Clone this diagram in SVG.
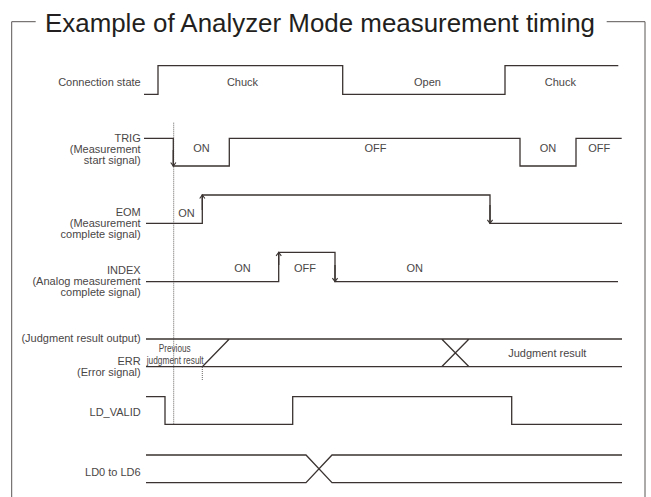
<svg xmlns="http://www.w3.org/2000/svg" width="651" height="497" viewBox="0 0 651 497">
<style>
.sig{fill:none;stroke:#3a3331;stroke-width:1.3}
.frame{fill:none;stroke:#5a5555;stroke-width:1}
.dot{fill:none;stroke:#6a6666;stroke-width:1;stroke-dasharray:1 1}
text{font-family:"Liberation Sans",Arial,sans-serif;fill:#4a4646}
.lbl{font-size:11px;text-anchor:end}
.st{font-size:11px;text-anchor:middle}
.sm{font-size:10px}
.title{font-size:25px;fill:#231f20}
</style>
<defs>
<marker id="ah" markerUnits="userSpaceOnUse" markerWidth="8" markerHeight="8" refX="0" refY="0" viewBox="-5 -4 6 8" orient="auto" overflow="visible">
<path d="M-3.5,-2.6 L0,0 L-3.5,2.6" fill="none" stroke="#3a3331" stroke-width="1.1"/>
</marker>
</defs>
<rect width="651" height="497" fill="#fff"/>
<g id="frame">
<path class="frame" d="M35.7 21.7 H11.7 V497"/>
<path class="frame" d="M606.7 21.7 H645 V497"/>
<text class="title" x="45" y="31.7" textLength="550" lengthAdjust="spacingAndGlyphs">Example of Analyzer Mode measurement timing</text>
</g>
<g id="labels">
<text class="lbl" x="140.7" y="85.7">Connection state</text>
<text class="lbl" x="140.7" y="141.7">TRIG</text>
<text class="lbl" x="140.7" y="153">(Measurement</text>
<text class="lbl" x="140.7" y="164.3">start signal)</text>
<text class="lbl" x="140.7" y="216.3">EOM</text>
<text class="lbl" x="140.7" y="227.3">(Measurement</text>
<text class="lbl" x="140.7" y="238.3">complete signal)</text>
<text class="lbl" x="140.7" y="273.5">INDEX</text>
<text class="lbl" x="140.7" y="284.5">(Analog measurement</text>
<text class="lbl" x="140.7" y="295.5">complete signal)</text>
<text class="lbl" x="140.7" y="342.3">(Judgment result output)</text>
<text class="lbl" x="140.7" y="365">ERR</text>
<text class="lbl" x="140.7" y="376.3">(Error signal)</text>
<text class="lbl" x="140.7" y="416.3">LD_VALID</text>
<text class="lbl" x="140.7" y="476.3">LD0 to LD6</text>
</g>
<g id="states">
<text class="st" x="242.5" y="85.7">Chuck</text>
<text class="st" x="427.5" y="85.7">Open</text>
<text class="st" x="560.3" y="85.7">Chuck</text>
<text class="st" x="201.5" y="152.3">ON</text>
<text class="st" x="375.5" y="152.3">OFF</text>
<text class="st" x="548" y="152.3">ON</text>
<text class="st" x="599.3" y="152.3">OFF</text>
<text class="st" x="186.5" y="216.7">ON</text>
<text class="st" x="242.5" y="272">ON</text>
<text class="st" x="305" y="272">OFF</text>
<text class="st" x="414.8" y="272">ON</text>
<text class="sm" x="158.7" y="351.7" textLength="32" lengthAdjust="spacingAndGlyphs">Previous</text>
<text class="sm" x="146.7" y="363.8" textLength="57" lengthAdjust="spacingAndGlyphs">judgment result</text>
<text class="st" x="547.3" y="357">Judgment result</text>
</g>
<g id="connectors">
<path class="dot" d="M173.7 122.7 V424"/>
<path class="dot" d="M202.3 367 V380"/>
<path class="sig" d="M144 94.3 H158 V65.7 H342.7 V94.3 H505 V65.7 H618.3"/>
<path class="sig" d="M144 138.3 H173.3 V166 H229.3 V138.3 H520 V166 H576 V138.3 H621.7"/>
<line class="sig" x1="173.3" y1="150" x2="173.3" y2="166" marker-end="url(#ah)"/>
<path class="sig" d="M146 223.3 H202.3 V195 H490 V223.3 H622"/>
<line class="sig" x1="202.3" y1="210" x2="202.3" y2="195" marker-end="url(#ah)"/>
<line class="sig" x1="490" y1="205" x2="490" y2="223.3" marker-end="url(#ah)"/>
<path class="sig" d="M146 281.7 H278.7 V252.3 H335 V281.7 H618"/>
<line class="sig" x1="278.7" y1="265" x2="278.7" y2="252.3" marker-end="url(#ah)"/>
<line class="sig" x1="335" y1="265" x2="335" y2="281.7" marker-end="url(#ah)"/>
<path class="sig" d="M146 339 H622 M146 366.7 H622 M202.3 366.7 L229.3 339 M441.7 339 L469 366.7 M441.7 366.7 L469 339"/>
<path class="sig" d="M146 396.7 H165 V424.3 H292.7 V396.7 H511.7 V424.3 H622"/>
<path class="sig" d="M146 455 H306 L332 482.7 H622 M146 482.7 H306 L332 455 H622"/>
</g>
</svg>
